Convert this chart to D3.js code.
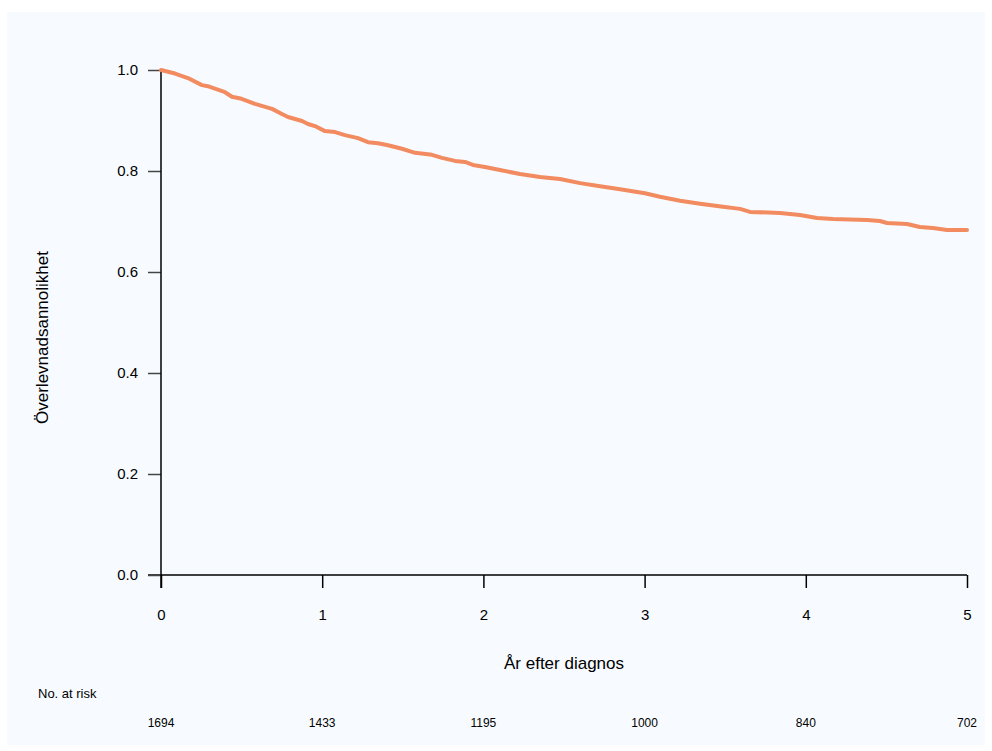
<!DOCTYPE html>
<html>
<head>
<meta charset="utf-8">
<script src="https://cdn.jsdelivr.net/npm/d3@7"></script>
<style>
  body { margin: 0; background: #ffffff; }
  text { font-family: "Liberation Sans", Arial, sans-serif; fill: #000; }
</style>
</head>
<body>
<div id="chart"></div>
<script>
// survival curve (years, survival)
var times = [0, 0.087, 0.167, 0.254, 0.29, 0.397, 0.44, 0.50, 0.583, 0.689, 0.75, 0.788,
  0.875, 0.912, 0.955, 1.017, 1.08, 1.141, 1.222, 1.284, 1.346, 1.408, 1.495, 1.576,
  1.681, 1.743, 1.824, 1.886, 1.935, 2.01, 2.103, 2.227, 2.351, 2.475, 2.6, 2.724,
  2.848, 3.002, 3.095, 3.22, 3.344, 3.486, 3.592, 3.654, 3.84, 3.964, 4.07, 4.169,
  4.38, 4.46, 4.504, 4.628, 4.708, 4.789, 4.876, 5.0];
var surv = [1.0, 0.993, 0.984, 0.970, 0.968, 0.956, 0.947, 0.943, 0.933, 0.923, 0.913, 0.907,
  0.899, 0.893, 0.889, 0.879, 0.877, 0.871, 0.865, 0.857, 0.855, 0.851, 0.844, 0.836,
  0.832, 0.826, 0.820, 0.818, 0.812, 0.808, 0.802, 0.794, 0.788, 0.784, 0.776, 0.770,
  0.764, 0.756, 0.749, 0.741, 0.735, 0.729, 0.725, 0.719, 0.717, 0.713, 0.707, 0.705,
  0.703, 0.701, 0.697, 0.695, 0.689, 0.687, 0.683, 0.683];

var xTicks = [0, 1, 2, 3, 4, 5];
var yTicks = [0.0, 0.2, 0.4, 0.6, 0.8, 1.0];
var atRisk = [1694, 1433, 1195, 1000, 840, 702];

var W = 992, H = 751;
var svg = d3.select("#chart").append("svg")
  .attr("width", W)
  .attr("height", H);

// panel background
svg.append("rect")
  .attr("x", 7).attr("y", 12)
  .attr("width", 978).attr("height", 733)
  .attr("fill", "#f7fbff");

var x = d3.scaleLinear().domain([0, 5]).range([161, 967]);
var y = d3.scaleLinear().domain([0, 1]).range([575, 70]);

// x axis
var xAxis = d3.axisBottom(x)
  .tickValues(xTicks)
  .tickSize(13)
  .tickPadding(21)
  .tickFormat(d3.format("d"));
var gx = svg.append("g")
  .attr("transform", "translate(0," + y(0) + ")")
  .call(xAxis);
gx.select(".domain").remove();
gx.append("line")
  .attr("x1", x(0) - 13).attr("x2", x(5))
  .attr("stroke", "#000").attr("stroke-width", 1.5);

// y axis
var yAxis = d3.axisLeft(y)
  .tickValues(yTicks)
  .tickSize(13)
  .tickPadding(10)
  .tickFormat(d3.format(".1f"));
var gy = svg.append("g")
  .attr("transform", "translate(" + x(0) + ",0)")
  .call(yAxis);
gy.select(".domain").remove();
gy.append("line")
  .attr("y1", y(0) + 13).attr("y2", y(1))
  .attr("stroke", "#000").attr("stroke-width", 1.5);

svg.selectAll(".tick line").attr("stroke", "#000").attr("stroke-width", 1.5);
svg.selectAll(".tick text")
  .style("font-family", "'Liberation Sans', Arial, sans-serif")
  .style("font-size", "15px");
gy.selectAll(".tick line").attr("stroke", "#444");

// titles
svg.append("text")
  .attr("x", (x(0) + x(5)) / 2)
  .attr("y", 669)
  .attr("text-anchor", "middle")
  .style("font-size", "17px")
  .text("År efter diagnos");

svg.append("text")
  .attr("transform", "translate(48," + ((y(0) + y(1)) / 2 + 15) + ") rotate(-90)")
  .attr("text-anchor", "middle")
  .style("font-size", "17px")
  .text("Överlevnadsannolikhet");

// numbers at risk
svg.append("text")
  .attr("x", 38)
  .attr("y", 698)
  .style("font-size", "13px")
  .text("No. at risk");

svg.selectAll(".risk")
  .data(atRisk)
  .enter()
  .append("text")
  .attr("class", "risk")
  .attr("x", function(d, i) { return x(xTicks[i]); })
  .attr("y", 727)
  .attr("text-anchor", "middle")
  .style("font-size", "12px")
  .text(function(d) { return d; });

// survival curve (steps too fine to read, drawn through the read points)
var pts = times.map(function(t, i) { return [t, surv[i]]; });
var line = d3.line()
  .x(function(d) { return x(d[0]); })
  .y(function(d) { return y(d[1]); });

svg.append("path")
  .datum(pts)
  .attr("d", line)
  .attr("fill", "none")
  .attr("stroke", "#f28b60")
  .attr("stroke-width", 4)
  .attr("stroke-linejoin", "round")
  .attr("stroke-linecap", "round");
</script>
</body>
</html>
